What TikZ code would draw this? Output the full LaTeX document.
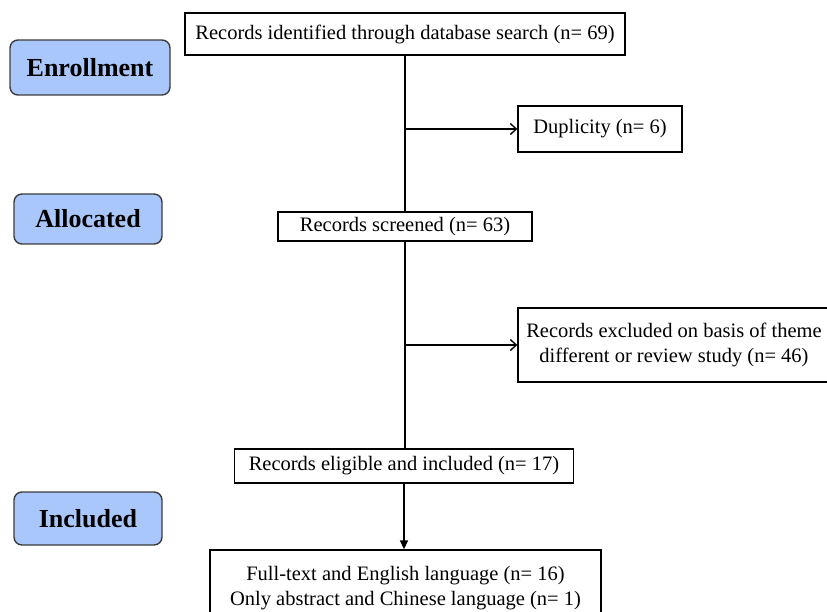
\documentclass[tikz,border=0pt]{standalone}
\usepackage{fontspec}
\setmainfont{Liberation Serif}
\usetikzlibrary{arrows.meta}
\definecolor{phase}{RGB}{170,199,252}
\definecolor{phaseedge}{RGB}{60,60,60}
\begin{document}
\begin{tikzpicture}[x=1pt,y=-1pt,
  flowbox/.style={draw=black,line width=1.4pt,fill=white,align=center,
    font=\fontsize{20.5}{24.5}\selectfont,inner sep=0pt},
  phasebox/.style={draw=phaseedge,line width=1.4pt,fill=phase,rounded corners=8pt,
    font=\fontsize{26}{30}\selectfont\bfseries,inner sep=0pt},
  conn/.style={line width=1.5pt,draw=black},
  barb/.style={conn,-{Straight Barb[length=6pt,width=11pt,line width=1.4pt]}},
  down/.style={conn,-{Triangle[length=9pt,width=8pt]}}]
\useasboundingbox (0,0) rectangle (827,612);
% phase labels
\node[phasebox,minimum width=160pt,minimum height=55pt] (enr) at (90,67.5) {Enrollment};
\node[phasebox,minimum width=148pt,minimum height=50pt] (all) at (88,219) {Allocated};
\node[phasebox,minimum width=148pt,minimum height=53pt] (inc) at (88,518.5) {Included};
% flow boxes
\node[flowbox,minimum width=440pt,minimum height=42pt] (id) at (405,34) {Records identified through database search (n= 69)};
\node[flowbox,minimum width=164pt,minimum height=46pt] (dup) at (600,129) {Duplicity (n= 6)};
\node[flowbox,minimum width=254pt,minimum height=29pt] (scr) at (405,226.5) {Records screened (n= 63)};
\node[flowbox,minimum width=312pt,minimum height=74pt] (exc) at (674,345) {Records excluded on basis of theme\\different or review study (n= 46)};
\node[flowbox,minimum width=339pt,minimum height=34pt] (eli) at (404,466) {Records eligible and included (n= 17)};
\node[flowbox,minimum width=391pt,minimum height=76pt] (fin) at (405.5,588) {Full-text and English language (n= 16)\\Only abstract and Chinese language (n= 1)};
% connectors
\draw[conn] (id.south) -- (scr.north);
\coordinate (j1) at (id.south |- dup.west);
\draw[barb] (j1) -- (dup.west);
\draw[conn] (scr.south) -- (scr.south |- eli.north);
\coordinate (j2) at (scr.south |- exc.west);
\draw[barb] (j2) -- (exc.west);
\draw[down] (eli.south) -- (eli.south |- fin.north);
\end{tikzpicture}
\end{document}
